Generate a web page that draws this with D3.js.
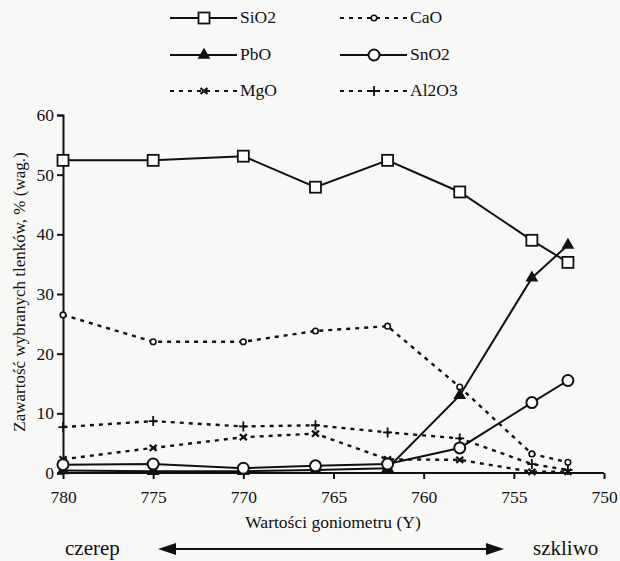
<!DOCTYPE html>
<html>
<head>
<meta charset="utf-8">
<script src="https://cdn.jsdelivr.net/npm/d3@7"></script>
<style>
  body { margin: 0; background: #f8f8f6; }
  svg { display: block; }
</style>
</head>
<body>
<div id="chart"></div>
<script>
// goniometer readings (Y), left = body, right = glaze
var xVals = [780, 775, 770, 766, 762, 758, 754, 752];

// oxide content, % (wag.)
var sio2  = [52.4, 52.4, 53.1, 47.9, 52.4, 47.1, 39.0, 35.3];
var pbo   = [0.4, 0.3, 0.3, 0.5, 0.8, 13.0, 32.7, 38.2];
var sno2  = [1.4, 1.5, 0.8, 1.2, 1.5, 4.2, 11.8, 15.5];
var cao   = [26.5, 22.0, 22.0, 23.8, 24.6, 14.4, 3.2, 1.8];
var mgo   = [2.3, 4.2, 6.0, 6.6, 2.3, 2.2, 0.2, 0.2];
var al2o3 = [7.7, 8.7, 7.8, 8.0, 6.8, 5.8, 1.5, 0.5];

var xTicks = [780, 775, 770, 765, 760, 755, 750];
var yTicks = [0, 10, 20, 30, 40, 50, 60];

var series = [
  {name: "SiO2",  values: sio2,  dashed: false, marker: "square"},
  {name: "CaO",   values: cao,   dashed: true,  marker: "dot"},
  {name: "PbO",   values: pbo,   dashed: false, marker: "triangle"},
  {name: "SnO2",  values: sno2,  dashed: false, marker: "circle"},
  {name: "MgO",   values: mgo,   dashed: true,  marker: "cross"},
  {name: "Al2O3", values: al2o3, dashed: true,  marker: "plus"}
];

var FONT = "'Liberation Serif', Tinos, 'Times New Roman', 'DejaVu Serif', serif";
var width = 620, height = 561;

var svg = d3.select("#chart").append("svg")
    .attr("width", width)
    .attr("height", height)
    .attr("font-family", FONT);

var x = d3.scaleLinear().domain([780, 750]).range([63, 604]);
var y = d3.scaleLinear().domain([0, 60]).range([473, 115]);

// axes
var xAxis = svg.append("g")
    .attr("transform", "translate(0," + y(0) + ")")
    .call(d3.axisBottom(x).tickValues(xTicks).tickSize(6).tickFormat(d3.format("d")));

var yAxis = svg.append("g")
    .attr("transform", "translate(" + x(780) + ",0)")
    .call(d3.axisLeft(y).tickValues(yTicks).tickSize(6));

[xAxis, yAxis].forEach(function(a) {
  a.attr("font-family", FONT).attr("font-size", 17.5);
  a.select(".domain").attr("stroke", "#111").attr("stroke-width", 2);
  a.selectAll(".tick line").attr("stroke", "#111").attr("stroke-width", 2);
  a.selectAll("text").attr("fill", "#111");
});
xAxis.selectAll(".domain").attr("d", "M" + x(780) + ",0H" + x(750));
xAxis.selectAll("text").attr("dy", "1.2em");
yAxis.selectAll("text").attr("x", -9);

// lines + markers
var line = d3.line()
    .x(function(d, i) { return x(xVals[i]); })
    .y(function(d) { return y(d); });

function drawMarker(g, type, cx, cy) {
  if (type == "square") {
    g.append("rect").attr("x", cx - 5.5).attr("y", cy - 5.5)
      .attr("width", 11).attr("height", 11)
      .attr("fill", "#fff").attr("stroke", "#111").attr("stroke-width", 1.8);
  } else if (type == "circle") {
    g.append("circle").attr("cx", cx).attr("cy", cy).attr("r", 5.5)
      .attr("fill", "#fff").attr("stroke", "#111").attr("stroke-width", 2);
  } else if (type == "triangle") {
    g.append("path")
      .attr("d", d3.symbol().type(d3.symbolTriangle).size(70)())
      .attr("transform", "translate(" + cx + "," + cy + ")")
      .attr("fill", "#111");
  } else if (type == "dot") {
    g.append("circle").attr("cx", cx).attr("cy", cy).attr("r", 2.8)
      .attr("fill", "#fff").attr("stroke", "#111").attr("stroke-width", 1.6);
  } else if (type == "cross") {
    g.append("path")
      .attr("d", "M-3.5,-3L3.5,3M3.5,-3L-3.5,3")
      .attr("transform", "translate(" + cx + "," + cy + ")")
      .attr("stroke", "#111").attr("stroke-width", 2.2);
  } else if (type == "plus") {
    g.append("path")
      .attr("d", "M-4.5,0L4.5,0M0,-5L0,5")
      .attr("transform", "translate(" + cx + "," + cy + ")")
      .attr("stroke", "#111").attr("stroke-width", 1.8);
  }
}

// dashed series first so solid ones sit on top
var order = series.filter(function(s) { return s.dashed; })
    .concat(series.filter(function(s) { return !s.dashed; }));

order.forEach(function(s) {
  var g = svg.append("g");
  g.append("path")
    .datum(s.values)
    .attr("d", line)
    .attr("fill", "none")
    .attr("stroke", "#111")
    .attr("stroke-width", s.dashed ? 2.4 : 2)
    .attr("stroke-dasharray", s.dashed ? "4,5" : null);
  s.values.forEach(function(v, i) {
    drawMarker(g, s.marker, x(xVals[i]), y(v));
  });
});

// legend, two columns x three rows
var legCols = [170, 340];
var legRows = [18, 55, 91];
series.forEach(function(s, i) {
  var lx = legCols[i % 2], ly = legRows[Math.floor(i / 2)];
  var g = svg.append("g");
  g.append("line")
    .attr("x1", lx).attr("x2", lx + 67)
    .attr("y1", ly).attr("y2", ly)
    .attr("stroke", "#111")
    .attr("stroke-width", s.dashed ? 2.2 : 2)
    .attr("stroke-dasharray", s.dashed ? "4,5" : null);
  drawMarker(g, s.marker, lx + 34, ly);
  g.append("text")
    .attr("x", lx + 70).attr("y", ly + 5)
    .attr("fill", "#111")
    .attr("font-size", 17.5)
    .text(s.name);
});

// axis titles
svg.append("text")
    .attr("x", 333).attr("y", 528)
    .attr("text-anchor", "middle")
    .attr("fill", "#111")
    .attr("font-size", 17.5)
    .text("Wartości goniometru (Y)");

svg.append("text")
    .attr("transform", "translate(25,292) rotate(-90)")
    .attr("text-anchor", "middle")
    .attr("fill", "#111")
    .attr("font-size", 17)
    .text("Zawartość wybranych tlenków, % (wag.)");

// czerep <-> szkliwo arrow
svg.append("text").attr("x", 65).attr("y", 555)
    .attr("fill", "#111").attr("font-size", 21).text("czerep");
svg.append("text").attr("x", 533).attr("y", 555)
    .attr("fill", "#111").attr("font-size", 21).text("szkliwo");

svg.append("line")
    .attr("x1", 165).attr("x2", 497)
    .attr("y1", 549).attr("y2", 549)
    .attr("stroke", "#111").attr("stroke-width", 2);
svg.append("path").attr("d", "M158,549L176,543L176,555Z").attr("fill", "#111");
svg.append("path").attr("d", "M504,549L486,543L486,555Z").attr("fill", "#111");
</script>
</body>
</html>
